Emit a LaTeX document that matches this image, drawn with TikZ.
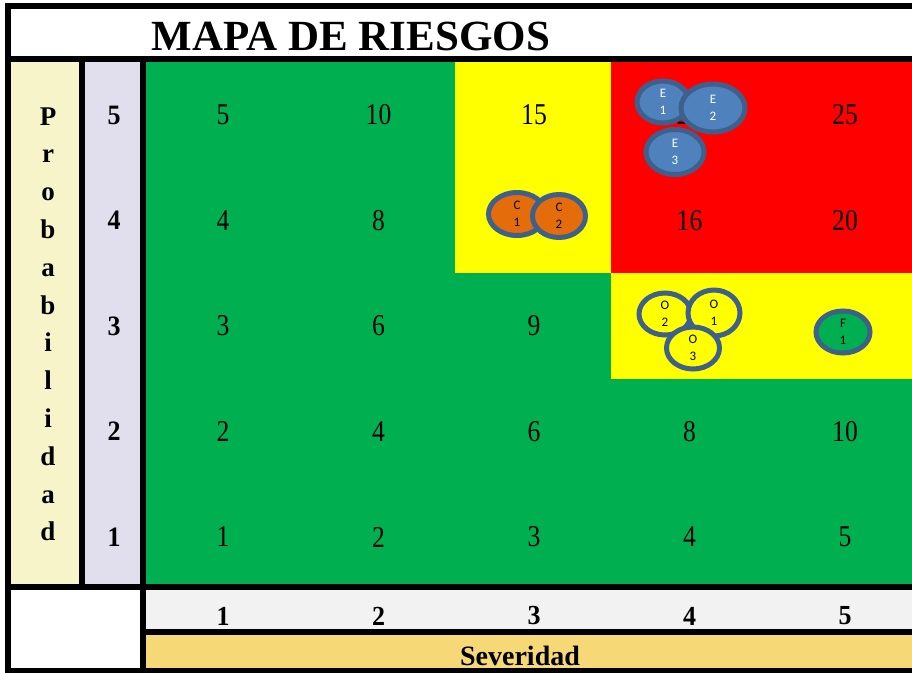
\documentclass[tikz,border=0pt]{standalone}
\usepackage{fontspec}
\setmainfont{Liberation Serif}
\newfontfamily\shapefont{Carlito}
\usetikzlibrary{shapes.geometric,positioning}

\definecolor{riskgreen}{RGB}{0,176,80}
\definecolor{riskyellow}{RGB}{255,255,0}
\definecolor{riskred}{RGB}{255,0,0}
\definecolor{probcream}{RGB}{246,244,200}
\definecolor{problilac}{RGB}{225,222,238}
\definecolor{sevgray}{RGB}{242,242,242}
\definecolor{sevgold}{RGB}{246,217,118}
\definecolor{riskedge}{RGB}{62,96,140}
\definecolor{riskblue}{RGB}{79,129,189}
\definecolor{riskorange}{RGB}{228,108,10}

\newcommand{\tallnum}[1]{\scalebox{0.95}[1.12]{#1}}

\begin{document}
\begin{tikzpicture}[x=1pt,y=-1pt]
  \tikzstyle{every node}=[inner sep=0pt]
  \tikzstyle{cellnum}=[font=\fontsize{27}{27}\selectfont]
  \tikzstyle{axisnum}=[font=\bfseries\fontsize{26}{26}\selectfont]
  \tikzstyle{risk}=[ellipse,draw=riskedge,line width=5pt,align=center,
    font=\shapefont\fontsize{13}{17}\selectfont]

  \useasboundingbox (0,0) rectangle (912,672);

  % Areas
  \fill[white] (5,3) rectangle (912,672);
  \fill[probcream] (11,62) rectangle (79,584);
  \fill[problilac] (85,62) rectangle (140,584);
  \fill[riskgreen] (146,62) rectangle (912,584);
  \fill[riskyellow] (455,62) rectangle (611,273);
  \fill[riskred] (611,62) rectangle (912,273);
  \fill[riskyellow] (611,273) rectangle (912,379);
  \fill[sevgray] (146,590) rectangle (912,629);
  \fill[sevgold] (146,635) rectangle (912,668);

  % Rules
  \draw[line width=6pt] (8,3) -- (8,672);
  \draw[line width=6pt] (5,6) -- (912,6);
  \draw[line width=6pt] (5,59) -- (912,59);
  \draw[line width=6pt] (82,62) -- (82,584);
  \draw[line width=6pt] (143,62) -- (143,672);
  \draw[line width=6pt] (5,587) -- (912,587);
  \draw[line width=6pt] (146,632) -- (912,632);
  \draw[line width=5pt] (5,670.5) -- (912,670.5);

  % Title and axes
  \node[font=\bfseries\fontsize{43}{43}\selectfont] (title) at (351,36) {MAPA DE RIESGOS};
  \foreach \ch [count=\i from 0] in {P,r,o,b,a,b,i,l,i,d,a,d}
    \node[font=\bfseries\fontsize{27}{27}\selectfont,anchor=base] (prob\i) at (48,125+37.8*\i) {\ch};
  \foreach \r in {1,...,5} {
    \node[axisnum] (row\r) at (114,115+105.5*5-105.5*\r) {\scalebox{1}[1.08]{\r}};
    \node[axisnum] (col\r) at (223+155.5*\r-155.5,616) {\scalebox{1}[1.06]{\r}};
  }
  \node[font=\bfseries\fontsize{28}{28}\selectfont] (sev) at (520,656) {Severidad};

  % Cells (12 and 15 lie under the risks)
  \foreach \r/\cols in {1/{1,2,3,4,5},2/{1,2,3,4,5},3/{1,2,3},4/{1,2,3,4,5},5/{1,2,3,4,5}}
    \foreach \c in \cols {
      \pgfmathtruncatemacro{\v}{\r*\c}
      \node[cellnum] (n\r\c) at (223+155.5*\c-155.5,115+105.5*5-105.5*\r) {\tallnum{\v}};
    }

  % Risks
  \node[risk,fill=riskblue,text=white,minimum width=52pt,minimum height=42pt] (E1) at (663,102) {E\\1};
  \node[risk,fill=riskblue,text=white,minimum width=64pt,minimum height=48pt] (E2) at (713,108) {E\\2};
  \node[risk,fill=riskblue,text=white,minimum width=58pt,minimum height=45pt] (E3) at (675,152) {E\\3};
  \node[risk,fill=riskorange,minimum width=57pt,minimum height=43pt] (C1) at (517,214) {C\\1};
  \node[risk,fill=riskorange,minimum width=53pt,minimum height=43pt] (C2) at (559,216) {C\\2};
  \node[risk,fill=riskyellow,minimum width=52pt,minimum height=42pt] (O2) at (665,314) {O\\2};
  \node[risk,fill=riskyellow,minimum width=52pt,minimum height=46pt] (O1) at (714,313) {O\\1};
  \node[risk,fill=riskyellow,minimum width=53pt,minimum height=42pt] (O3) at (693,348) {O\\3};
  \node[risk,fill=riskgreen,minimum width=54pt,minimum height=42pt] (F1) at (843,332) {F\\1};
\end{tikzpicture}
\end{document}
